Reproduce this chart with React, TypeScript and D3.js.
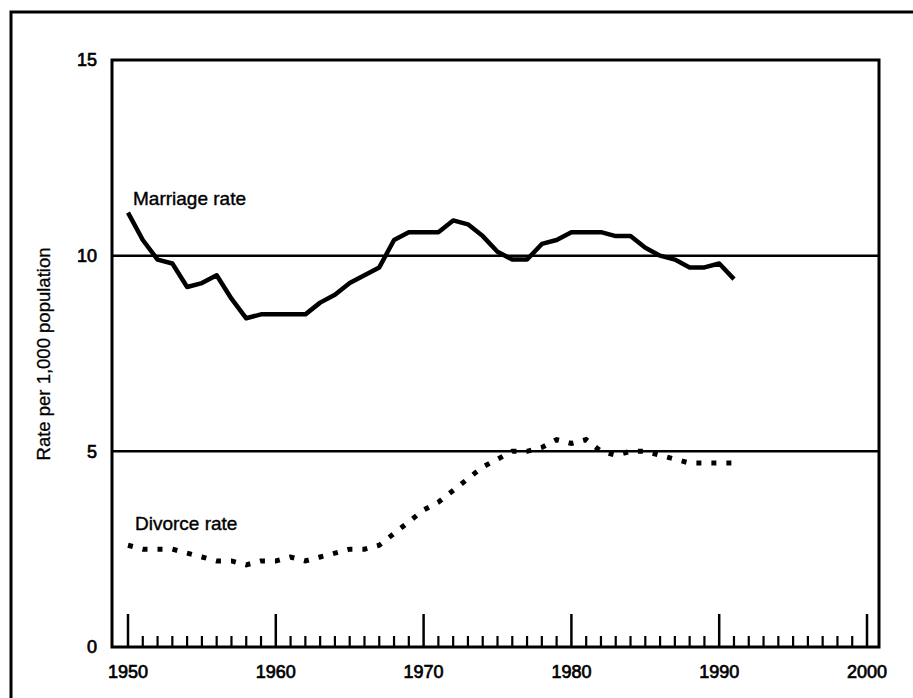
import { useEffect, useRef } from "react";
import * as d3 from "d3";

const years = d3.range(1950, 1992);

const marriageRate = [
  11.1, 10.4, 9.9, 9.8, 9.2, 9.3, 9.5, 8.9, 8.4, 8.5, 8.5, 8.5, 8.5, 8.8, 9.0,
  9.3, 9.5, 9.7, 10.4, 10.6, 10.6, 10.6, 10.9, 10.8, 10.5, 10.1, 9.9, 9.9,
  10.3, 10.4, 10.6, 10.6, 10.6, 10.5, 10.5, 10.2, 10.0, 9.9, 9.7, 9.7, 9.8,
  9.4,
];

const divorceRate = [
  2.6, 2.5, 2.5, 2.5, 2.4, 2.3, 2.2, 2.2, 2.1, 2.2, 2.2, 2.3, 2.2, 2.3, 2.4,
  2.5, 2.5, 2.6, 2.9, 3.2, 3.5, 3.7, 4.0, 4.3, 4.6, 4.8, 5.0, 5.0, 5.1, 5.3,
  5.2, 5.3, 5.0, 4.9, 5.0, 5.0, 4.9, 4.8, 4.7, 4.7, 4.7, 4.7,
];

const yTicks = [0, 5, 10, 15];
const gridValues = [5, 10];
const decadeTicks = [1950, 1960, 1970, 1980, 1990, 2000];
const yearTicks = d3.range(1951, 2000).filter((y) => y % 10 !== 0);

const FONT = "'Liberation Sans', Arial, sans-serif";

export default function App() {
  const ref = useRef<HTMLDivElement>(null);

  useEffect(() => {
    const W = 913;
    const H = 698;
    const left = 112;
    const right = 879;
    const top = 60;
    const bottom = 647;

    const svg = d3
      .select(ref.current)
      .html("")
      .append("svg")
      .attr("width", W)
      .attr("height", H)
      .style("display", "block")
      .style("font-family", FONT);

    svg.append("rect").attr("width", W).attr("height", H).attr("fill", "#fff");

    // outer frame, runs off the right and bottom of the page
    svg
      .append("rect")
      .attr("x", 11)
      .attr("y", 12)
      .attr("width", 1000)
      .attr("height", 1000)
      .attr("fill", "none")
      .attr("stroke", "#000")
      .attr("stroke-width", 3);

    const x = d3
      .scaleLinear()
      .domain([1950, 2000])
      .range([128, 867]);

    const y = d3.scaleLinear().domain([0, 15]).range([bottom, top]);

    // grid lines
    svg
      .selectAll("line.grid")
      .data(gridValues)
      .join("line")
      .attr("class", "grid")
      .attr("x1", left)
      .attr("x2", right)
      .attr("y1", (d) => y(d))
      .attr("y2", (d) => y(d))
      .attr("stroke", "#000")
      .attr("stroke-width", 2.5);

    // plot frame
    svg
      .append("rect")
      .attr("x", left)
      .attr("y", top)
      .attr("width", right - left)
      .attr("height", bottom - top)
      .attr("fill", "none")
      .attr("stroke", "#000")
      .attr("stroke-width", 3);

    // x ticks
    svg
      .selectAll("line.major")
      .data(decadeTicks)
      .join("line")
      .attr("class", "major")
      .attr("x1", (d) => x(d))
      .attr("x2", (d) => x(d))
      .attr("y1", bottom)
      .attr("y2", bottom - 33)
      .attr("stroke", "#000")
      .attr("stroke-width", 2.5);

    svg
      .selectAll("line.minor")
      .data(yearTicks)
      .join("line")
      .attr("class", "minor")
      .attr("x1", (d) => x(d))
      .attr("x2", (d) => x(d))
      .attr("y1", bottom)
      .attr("y2", bottom - 11)
      .attr("stroke", "#000")
      .attr("stroke-width", 2.2);

    svg
      .selectAll("text.xlab")
      .data(decadeTicks)
      .join("text")
      .attr("class", "xlab")
      .attr("x", (d) => x(d))
      .attr("y", 678)
      .attr("text-anchor", "middle")
      .attr("font-size", 18)
      .attr("stroke", "#000")
      .attr("stroke-width", 0.7)
      .text((d) => d);

    svg
      .selectAll("text.ylab")
      .data(yTicks)
      .join("text")
      .attr("class", "ylab")
      .attr("x", 97)
      .attr("y", (d) => y(d))
      .attr("dy", "0.35em")
      .attr("text-anchor", "end")
      .attr("font-size", 18)
      .attr("stroke", "#000")
      .attr("stroke-width", 0.7)
      .text((d) => d);

    svg
      .append("text")
      .attr("transform", "translate(50,354) rotate(-90)")
      .attr("text-anchor", "middle")
      .attr("font-size", 18.5)
      .attr("stroke", "#000")
      .attr("stroke-width", 0.3)
      .text("Rate per 1,000 population");

    const line = d3
      .line<number>()
      .x((_, i) => x(years[i]))
      .y((d) => y(d));

    svg
      .append("path")
      .datum(marriageRate)
      .attr("fill", "none")
      .attr("stroke", "#000")
      .attr("stroke-width", 4.5)
      .attr("stroke-linejoin", "round")
      .attr("d", line);

    svg
      .append("path")
      .datum(divorceRate)
      .attr("fill", "none")
      .attr("stroke", "#000")
      .attr("stroke-width", 5)
      .attr("stroke-dasharray", "5 10")
      .attr("d", line);

    svg
      .append("text")
      .attr("x", 133)
      .attr("y", 205)
      .attr("font-size", 19)
      .attr("stroke", "#000")
      .attr("stroke-width", 0.4)
      .text("Marriage rate");

    svg
      .append("text")
      .attr("x", 135)
      .attr("y", 530)
      .attr("font-size", 19)
      .attr("stroke", "#000")
      .attr("stroke-width", 0.4)
      .text("Divorce rate");
  }, []);

  return (
    <div
      ref={ref}
      style={{ position: "absolute", left: 0, top: 0, width: 913, height: 698 }}
    />
  );
}
